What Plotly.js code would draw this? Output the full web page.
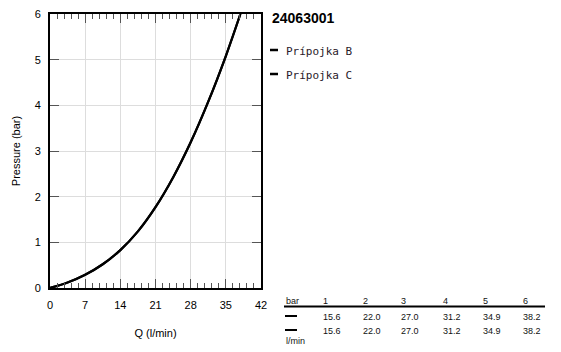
<!DOCTYPE html>
<html>
<head>
<meta charset="utf-8">
<script src="https://cdn.plot.ly/plotly-3.0.1.min.js"></script>
<style>html,body{margin:0;padding:0;background:#fff;}#chart{width:561px;height:352px;}</style>
</head>
<body>
<div id="chart"></div>
<script>
// Curve (flow Q in l/min vs pressure in bar)
const flowQ = [0, 3.5, 7, 10.5, 14, 17.5, 21, 24.5, 28, 31.5, 35, 37.9];
const pressure = [0, 0.12, 0.29, 0.52, 0.83, 1.24, 1.77, 2.42, 3.19, 4.08, 5.08, 6];
const seriesNames = ['Prípojka B', 'Prípojka C'];
const tableBar = ['1', '2', '3', '4', '5', '6'];
const tableB = ['15.6', '22.0', '27.0', '31.2', '34.9', '38.2'];
const tableC = ['15.6', '22.0', '27.0', '31.2', '34.9', '38.2'];
const chartTitle = '24063001';

const L = 50, R = 261, T = 14, B = 288;
const px = x => (x - L) / (R - L);
const py = y => (B - y) / (B - T);

const traces = seriesNames.map(n => ({
  x: flowQ, y: pressure, name: n, type: 'scatter', mode: 'lines',
  line: {color: '#000', width: 2.2, shape: 'spline', smoothing: 1},
  showlegend: false, hoverinfo: 'skip'
}));

const annotations = [];
const shapes = [];
const textFont = {family: 'Liberation Sans, Arial, sans-serif', size: 9, color: '#111'};
annotations.push({xref:'paper', yref:'paper', x: px(270), y: py(18), xanchor:'left', yanchor:'middle',
  text: '<b>' + chartTitle + '</b>', showarrow:false, font:{family:'Liberation Sans, Arial, sans-serif', size:14, color:'#000'}});
seriesNames.forEach((n, i) => {
  const yy = 50 + i * 24;
  shapes.push({type:'line', xref:'paper', yref:'paper', x0: px(270), x1: px(278), y0: py(yy), y1: py(yy), line:{color:'#000', width:2.5}});
  annotations.push({xref:'paper', yref:'paper', x: px(284), y: py(yy + 1), xanchor:'left', yanchor:'middle',
    text: n, showarrow:false, font:{family:'DejaVu Sans Mono, monospace', size:11, color:'#2a1a2a'}});
});
// table
const colX = [321, 361, 399, 441, 481, 521];
annotations.push({xref:'paper', yref:'paper', x: px(284), y: py(301), xanchor:'left', yanchor:'middle', text:'bar', showarrow:false, font:textFont});
tableBar.forEach((t, i) => annotations.push({xref:'paper', yref:'paper', x: px(colX[i]), y: py(301), xanchor:'left', yanchor:'middle', text:t, showarrow:false, font:textFont}));
shapes.push({type:'line', xref:'paper', yref:'paper', x0: px(284), x1: px(545), y0: py(306.5), y1: py(306.5), line:{color:'#000', width:2}});
[tableB, tableC].forEach((row, r) => {
  const yy = 317 + r * 14;
  shapes.push({type:'line', xref:'paper', yref:'paper', x0: px(285), x1: px(297), y0: py(yy - 1), y1: py(yy - 1), line:{color:'#000', width:2}});
  row.forEach((t, i) => annotations.push({xref:'paper', yref:'paper', x: px(colX[i]), y: py(yy), xanchor:'left', yanchor:'middle', text:t, showarrow:false, font:textFont}));
});
annotations.push({xref:'paper', yref:'paper', x: px(284), y: py(341), xanchor:'left', yanchor:'middle', text:'l/min', showarrow:false, font:textFont});

const axisFont = {family: 'Liberation Sans, Arial, sans-serif', size: 11, color: '#000'};
const layout = {
  width: 561, height: 352,
  margin: {l: L, r: 561 - R, t: T, b: 352 - B, pad: 0},
  paper_bgcolor: '#fff', plot_bgcolor: '#fff',
  showlegend: false,
  xaxis: {
    range: [0, 42], dtick: 7, tick0: 0, ticks: 'inside', ticklen: 9, tickwidth: 1, tickcolor: '#555',
    minor: {dtick: 1.4, ticks: 'inside', ticklen: 5, tickcolor: '#555', showgrid: false},
    showline: true, linecolor: '#000', linewidth: 2, mirror: 'ticks',
    showgrid: true, gridcolor: '#ddd', gridwidth: 1, zeroline: false,
    tickfont: axisFont, fixedrange: true, ticklabelstandoff: 6,
    title: {text: 'Q (l/min)', font: axisFont, standoff: 19}
  },
  yaxis: {
    range: [0, 6], dtick: 1, tick0: 0, ticks: 'inside', ticklen: 9, tickwidth: 1, tickcolor: '#555',
    showline: true, linecolor: '#000', linewidth: 2, mirror: 'ticks',
    showgrid: true, gridcolor: '#ddd', gridwidth: 1, zeroline: false,
    tickfont: axisFont, fixedrange: true, ticklabelstandoff: 5,
    title: {text: 'Pressure (bar)', font: axisFont, standoff: 12}
  },
  annotations: annotations,
  shapes: shapes
};
Plotly.newPlot('chart', traces, layout, {staticPlot: true, displayModeBar: false});
</script>
</body>
</html>
